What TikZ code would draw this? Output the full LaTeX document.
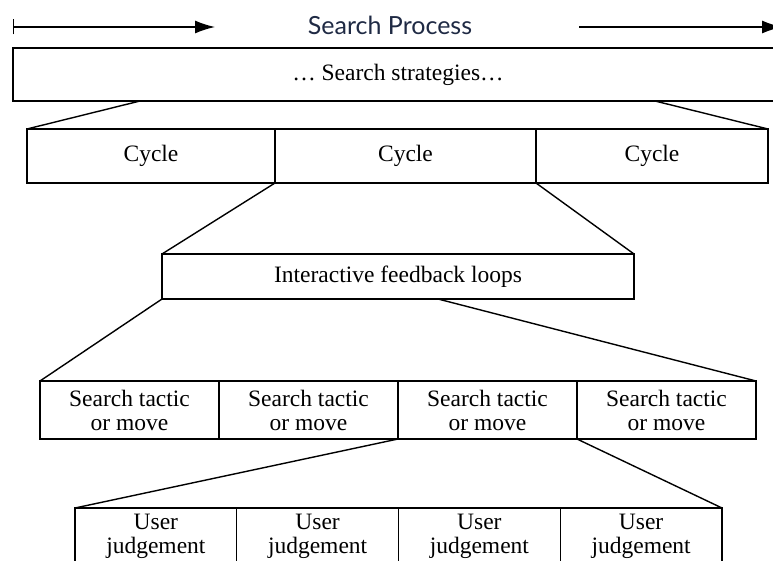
\documentclass[tikz,border=0pt]{standalone}
\usepackage{fontspec}
\setmainfont{Liberation Serif}
\newfontfamily\titlefont{Lato}
\usetikzlibrary{positioning,arrows.meta}
\definecolor{titleblue}{HTML}{1F2A44}
\tikzset{
  cell/.style={draw, line width=1.4pt, inner sep=0pt, outer sep=0pt, align=center,
               font=\fontsize{23.5}{24}\selectfont},
  cycle/.style={cell, minimum height=54pt},
  tactic/.style={cell, minimum width=179pt, minimum height=58pt},
  judge/.style={cell, minimum width=161.75pt, minimum height=57pt},
  link/.style={line width=1.4pt},
  head/.style={-{Latex[length=20pt,width=13pt]}},
}

\begin{document}
\begin{tikzpicture}[x=1pt, y=-1pt]
  \useasboundingbox (0,0) rectangle (773,561);
  \clip (0,0) rectangle (773,561);

  % process arrow
  \node[font=\titlefont\fontsize{25}{25}\selectfont, text=titleblue] (title) at (390,25) {Search Process};
  \coordinate (pstart) at (13,27);
  \coordinate (pleft) at (215,27);
  \coordinate (pright) at (579,27);
  \coordinate (pend) at (782,27);
  \draw[link, {Bar[width=15pt]}-{Latex[length=20pt,width=13pt]}] (pstart) -- (pleft);
  \draw[link, head] (pright) -- (pend);

  % levels
  \node[cell, minimum width=770pt, minimum height=53pt] (strat) at (398,74.5) {\ldots\ Search strategies\ldots};

  \node[cycle, minimum width=248pt, anchor=north west] (cyc1) at (27,129) {Cycle};
  \node[cycle, minimum width=261pt, right=0pt of cyc1] (cyc2) {Cycle};
  \node[cycle, minimum width=232pt, right=0pt of cyc2] (cyc3) {Cycle};

  \node[cell, minimum width=472pt, minimum height=45pt, anchor=north west] (inter) at (162,254) {Interactive feedback loops};

  \node[tactic, anchor=north west] (tac1) at (40,381) {Search tactic\\or move};
  \node[tactic, right=0pt of tac1] (tac2) {Search tactic\\or move};
  \node[tactic, right=0pt of tac2] (tac3) {Search tactic\\or move};
  \node[tactic, right=0pt of tac3] (tac4) {Search tactic\\or move};

  \node[judge, anchor=north west] (usr1) at (75,508) {User\\judgement};
  \node[judge, right=0pt of usr1] (usr2) {User\\judgement};
  \node[judge, right=0pt of usr2] (usr3) {User\\judgement};
  \node[judge, right=0pt of usr3] (usr4) {User\\judgement};

  % fan-out lines
  \draw[link] ([xshift=-258pt]strat.south) -- (cyc1.north west);
  \draw[link] ([xshift=257pt]strat.south) -- (cyc3.north east);
  \draw[link] (cyc1.south east) -- (inter.north west);
  \draw[link] (cyc2.south east) -- (inter.north east);
  \draw[link] (inter.south west) -- (tac1.north west);
  \draw[link] ([xshift=40pt]inter.south) -- (tac4.north east);
  \draw[link] (tac2.south east) -- (usr1.north west);
  \draw[link] (tac3.south east) -- (usr4.north east);
\end{tikzpicture}
\end{document}
